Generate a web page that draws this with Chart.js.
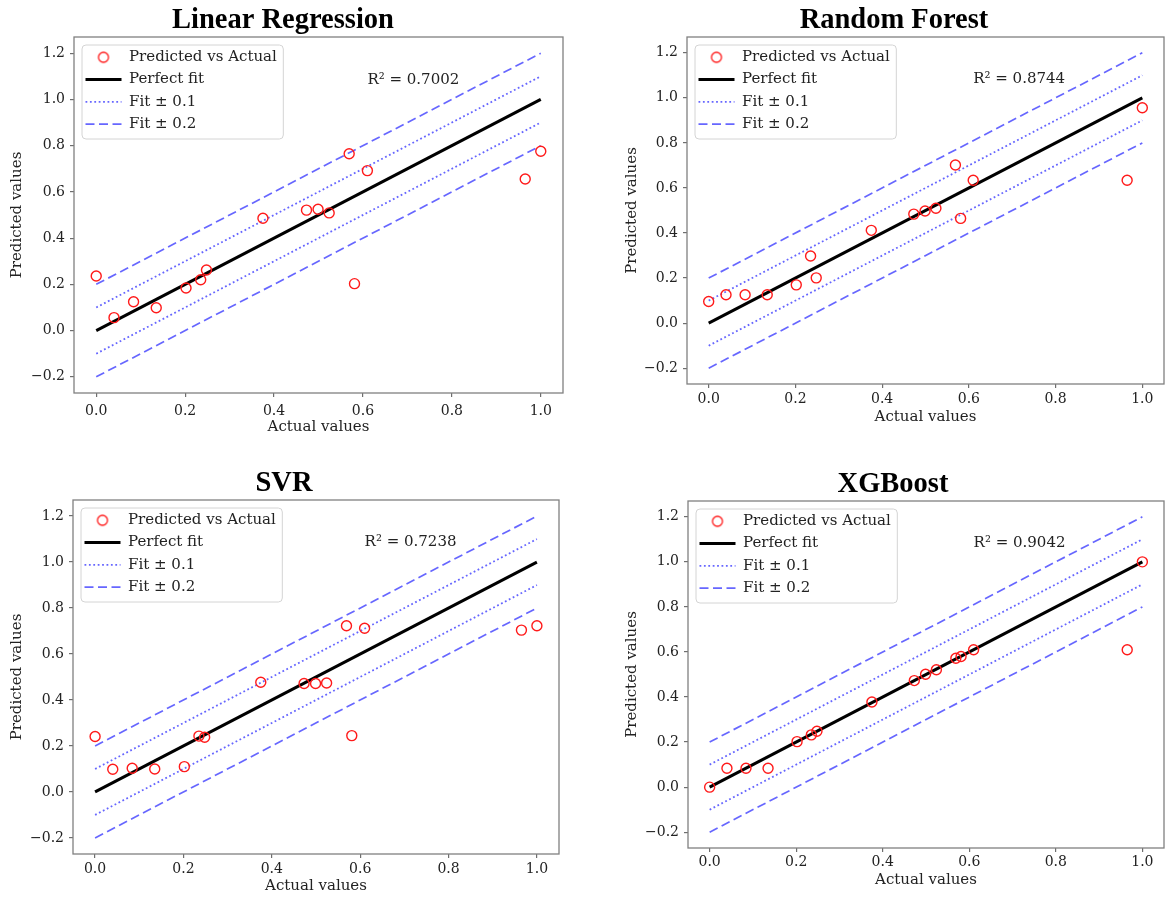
<!DOCTYPE html>
<html>
<head>
<meta charset="utf-8">
<script src="https://cdn.jsdelivr.net/npm/chart.js@4.4.1/dist/chart.umd.min.js"></script>
<style>
  html, body { margin: 0; padding: 0; background: #ffffff; }
  body { width: 1171px; height: 901px; position: relative; overflow: hidden; }
  canvas { position: absolute; }
</style>
</head>
<body>
<canvas id="c0"></canvas>
<canvas id="c1"></canvas>
<canvas id="c2"></canvas>
<canvas id="c3"></canvas>
<script>
// ---------------- data ----------------
const MODELS = ['Linear Regression', 'Random Forest', 'SVR', 'XGBoost'];
const R2_VALUES = ['0.7002', '0.8744', '0.7238', '0.9042'];

const ACTUAL   = [0.000, 0.040, 0.084, 0.135, 0.202, 0.235, 0.248, 0.375, 0.473, 0.499, 0.524, 0.569, 0.581, 0.610, 0.965, 1.000];
const PRED_LR  = [0.236, 0.056, 0.125, 0.099, 0.184, 0.220, 0.262, 0.486, 0.521, 0.525, 0.509, 0.765, 0.203, 0.692, 0.656, 0.776];
const PRED_RF  = [0.096, 0.126, 0.126, 0.126, 0.170, 0.298, 0.201, 0.412, 0.484, 0.498, 0.510, 0.702, 0.465, 0.634, 0.634, 0.956];
const PRED_SVR = [0.241, 0.099, 0.103, 0.100, 0.110, 0.243, 0.238, 0.477, 0.472, 0.472, 0.474, 0.723, 0.245, 0.712, 0.704, 0.723];
const PRED_XGB = [0.000, 0.084, 0.084, 0.084, 0.202, 0.232, 0.248, 0.378, 0.473, 0.501, 0.521, 0.572, 0.580, 0.610, 0.610, 1.000];
const PREDICTIONS = [PRED_LR, PRED_RF, PRED_SVR, PRED_XGB];

const LINE_X     = [0, 1];
const PERFECT_Y  = [0, 1];
const PLUS_01_Y  = [0.1, 1.1];
const MINUS_01_Y = [-0.1, 0.9];
const PLUS_02_Y  = [0.2, 1.2];
const MINUS_02_Y = [-0.2, 0.8];

const LEGEND_LABELS = ['Predicted vs Actual', 'Perfect fit', 'Fit \u00b1 0.1', 'Fit \u00b1 0.2'];
const X_TITLE = 'Actual values';
const Y_TITLE = 'Predicted values';
const X_TICKS = [0.0, 0.2, 0.4, 0.6, 0.8, 1.0];
const Y_TICKS = [-0.2, 0.0, 0.2, 0.4, 0.6, 0.8, 1.0, 1.2];
const X_RANGE = [-0.05, 1.05];
const Y_RANGE = [-0.27, 1.27];

// ---------------- layout (pixel geometry per panel) ----------------
const PANELS = [
  { L: 0,   T: 0,   W: 585, cl: 74,  cr: 563,  ct: 37,  cb: 393, tcx: 283, xlab: 427, ylab: 16.7, xgap: 9.6, ygap: 9 },
  { L: 600, T: 0,   W: 571, cl: 687, cr: 1164, ct: 37,  cb: 384, tcx: 894, xlab: 417, ylab: 632,  xgap: 6.6, ygap: 9 },
  { L: 0,   T: 463, W: 585, cl: 73,  cr: 559,  ct: 500, cb: 854, tcx: 284, xlab: 886, ylab: 17,   xgap: 6.6, ygap: 9 },
  { L: 600, T: 463, W: 571, cl: 688, cr: 1164, ct: 501, cb: 848, tcx: 893, xlab: 880, ylab: 632,  xgap: 5.6, ygap: 9 }
];

const TEXT_COLOR = '#222222';
const TICK_COLOR = '#6e6e6e';
const SPINE_COLOR = '#808080';
const BLUE = 'rgba(0,0,255,0.6)';
const RED = '#ff1a1a';
const TL = 4;
const SERIF = 'DejaVu Serif';
const TITLE_SIZE = 28.5;

function fmt(v) {
  const s = Number(v).toFixed(1);
  return s.startsWith('-') ? '\u2212' + s.slice(1) : s;
}
function pts(ys) { return LINE_X.map((x, k) => ({ x: x, y: ys[k] })); }

function circleIcon() {
  const c = document.createElement('canvas');
  c.width = 14; c.height = 14;
  const g = c.getContext('2d');
  g.strokeStyle = RED; g.lineWidth = 1.3;
  g.beginPath(); g.arc(7, 7, 5, 0, Math.PI * 2); g.stroke();
  return c;
}
const CIRCLE = circleIcon();

PANELS.forEach((p, i) => {
  const cv = document.getElementById('c' + i);
  const padL = 2 * p.tcx - p.cr - p.L;
  const yW = p.cl - p.L - padL;
  const padR = p.L + p.W - p.cr;
  const xH = p.xlab - p.cb + 9;
  const H = p.cb - p.T + xH;
  const titleBottom = 0.7;
  const titleTop = p.ct - p.T - TITLE_SIZE * 1.1 - titleBottom;
  cv.width = p.W; cv.height = H;
  cv.style.width = p.W + 'px'; cv.style.height = H + 'px';
  cv.style.left = p.L + 'px'; cv.style.top = p.T + 'px';

  const LEG_PAD = 7.3;

  const panelPlugin = {
    id: 'panelDeco' + i,
    afterLayout(chart) {
      const lg = chart.legend, a = chart.chartArea;
      if (!lg) return;
      lg.left = a.left + 4.2;
      lg.top = a.top + 5.5;
      lg.right = lg.left + lg.width;
      lg.bottom = lg.top + 200;
    },
    beforeDraw(chart) {
      const lg = chart.legend, a = chart.chartArea, ctx = chart.ctx;
      if (!lg) return;
      const itemX = lg.left + LEG_PAD;
      ctx.save();
      ctx.font = '15px "' + SERIF + '"';
      const tw = ctx.measureText(LEGEND_LABELS[0]).width;
      const colW = 36 + 7.5 + tw;
      const fx = a.left + 8, fy = a.top + 8;
      const fw = itemX + colW + 6.5 - fx;
      const fh = 94;
      ctx.beginPath();
      ctx.roundRect(fx, fy, fw, fh, 4);
      ctx.fillStyle = 'rgba(255,255,255,0.8)';
      ctx.fill();
      ctx.strokeStyle = '#d4d4d4';
      ctx.lineWidth = 1;
      ctx.stroke();
      ctx.restore();
    },
    afterDatasetsDraw(chart) {
      const a = chart.chartArea, ctx = chart.ctx;
      ctx.save();
      ctx.strokeStyle = SPINE_COLOR;
      ctx.lineWidth = 1.3;
      ctx.strokeRect(a.left, a.top, a.width, a.height);
      ctx.fillStyle = TEXT_COLOR;
      ctx.font = '15px "' + SERIF + '"';
      ctx.textAlign = 'left';
      ctx.textBaseline = 'middle';
      ctx.fillText('R\u00b2 = ' + R2_VALUES[i], a.left + 0.6 * a.width, a.top + 0.12 * a.height);
      ctx.restore();
    }
  };

  const lineDs = (label, ys, color, width, dash) => ({
    label: label, data: pts(ys), showLine: true, borderColor: color, backgroundColor: color,
    borderWidth: width, borderDash: dash, pointRadius: 0, pointHoverRadius: 0,
    pointStyle: 'line', tension: 0, borderCapStyle: 'butt'
  });

  new Chart(cv, {
    type: 'scatter',
    data: {
      datasets: [
        {
          label: LEGEND_LABELS[0],
          data: ACTUAL.map((x, k) => ({ x: x, y: PREDICTIONS[i][k] })),
          showLine: false, pointStyle: 'circle', pointRadius: 5, pointHoverRadius: 5,
          borderColor: RED, backgroundColor: 'rgba(0,0,0,0)',
          pointBorderColor: RED, pointBackgroundColor: 'rgba(0,0,0,0)',
          borderWidth: 1.4, pointBorderWidth: 1.4
        },
        lineDs(LEGEND_LABELS[1], PERFECT_Y, '#000000', 3, []),
        lineDs(LEGEND_LABELS[2], PLUS_01_Y, BLUE, 1.8, [1.8, 2.6]),
        lineDs('_' + LEGEND_LABELS[2], MINUS_01_Y, BLUE, 1.8, [1.8, 2.6]),
        lineDs(LEGEND_LABELS[3], PLUS_02_Y, BLUE, 1.7, [9, 4.5]),
        lineDs('_' + LEGEND_LABELS[3], MINUS_02_Y, BLUE, 1.7, [9, 4.5])
      ]
    },
    plugins: [panelPlugin],
    options: {
      responsive: false,
      animation: false,
      devicePixelRatio: 1,
      events: [],
      layout: { padding: { left: padL, right: padR, top: 0, bottom: 0 } },
      plugins: {
        title: {
          display: true, text: MODELS[i], color: '#000000',
          font: { family: 'Liberation Serif', size: TITLE_SIZE, weight: 'bold', lineHeight: 1.1 },
          padding: { top: titleTop, bottom: titleBottom }
        },
        legend: {
          position: 'chartArea', align: 'start',
          labels: {
            usePointStyle: true, pointStyleWidth: 36, padding: LEG_PAD,
            color: TEXT_COLOR, font: { family: SERIF, size: 15 },
            filter: (item) => !item.text.startsWith('_'),
            generateLabels: (chart) => {
              const items = Chart.defaults.plugins.legend.labels.generateLabels(chart);
              items.forEach((it) => {
                const ds = chart.data.datasets[it.datasetIndex];
                if (it.datasetIndex === 0) {
                  it.pointStyle = CIRCLE;
                } else {
                  it.pointStyle = 'line';
                  it.lineWidth = ds.borderWidth;
                  it.lineDash = ds.borderDash;
                  it.strokeStyle = ds.borderColor;
                  it.lineCap = 'butt';
                }
              });
              return items;
            }
          }
        },
        tooltip: { enabled: false }
      },
      scales: {
        x: {
          type: 'linear', position: 'bottom', min: X_RANGE[0], max: X_RANGE[1],
          afterBuildTicks: (s) => { s.ticks = X_TICKS.map((v) => ({ value: v })); },
          afterFit: (s) => { s.height = xH; },
          ticks: { callback: (v) => fmt(v), padding: p.xgap - TL, color: TEXT_COLOR,
                   font: { family: SERIF, size: 14 }, autoSkip: false, maxRotation: 0 },
          grid: { display: true, drawOnChartArea: false, drawTicks: true, tickLength: TL,
                  color: TICK_COLOR, lineWidth: 1.2 },
          border: { display: false },
          title: { display: true, text: X_TITLE, color: TEXT_COLOR,
                   font: { family: SERIF, size: 15, lineHeight: 1.2 }, padding: { top: 0, bottom: 0 } }
        },
        y: {
          type: 'linear', position: 'left', min: Y_RANGE[0], max: Y_RANGE[1],
          afterBuildTicks: (s) => { s.ticks = Y_TICKS.map((v) => ({ value: v })); },
          afterFit: (s) => { s.width = yW; },
          ticks: { callback: (v) => fmt(v), padding: p.ygap - TL, color: TEXT_COLOR,
                   font: { family: SERIF, size: 14 }, autoSkip: false },
          grid: { display: true, drawOnChartArea: false, drawTicks: true, tickLength: TL,
                  color: TICK_COLOR, lineWidth: 1.2 },
          border: { display: false },
          title: { display: true, text: Y_TITLE, color: TEXT_COLOR,
                   font: { family: SERIF, size: 15, lineHeight: 1.2 },
                   padding: { top: p.ylab - p.L - padL - 9, bottom: 0 } }
        }
      }
    }
  });
});
</script>
</body>
</html>
